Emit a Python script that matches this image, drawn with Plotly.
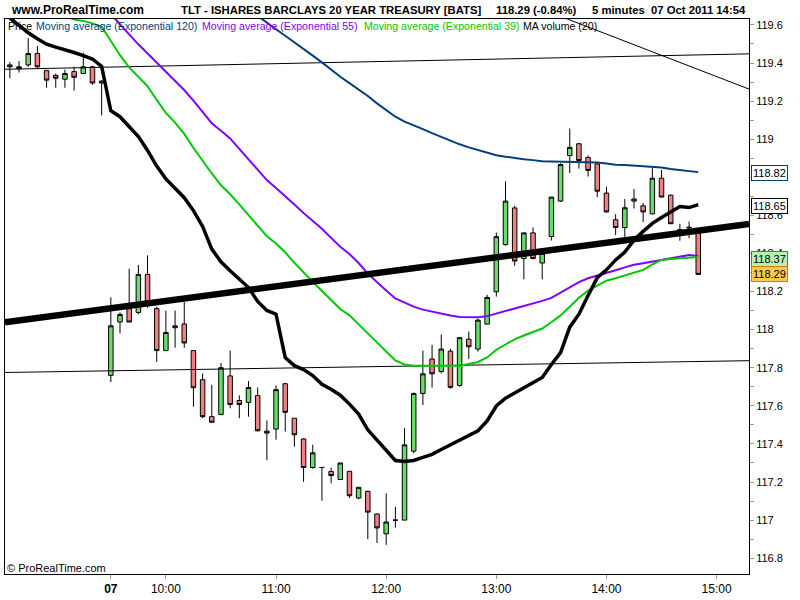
import plotly.graph_objects as go

# ---------------- data ----------------
bar_index = list(range(76))

open_ = [119.39, 119.37, 119.39, 119.45, 119.36, 119.335, 119.315, 119.355, 119.345, 119.38, 119.305,
         117.76, 118.04, 118.11, 118.09, 118.29, 118.11, 117.89, 118.02, 118.03, 117.89,
         117.737, 117.543, 117.555, 117.757, 117.628, 117.618, 117.654, 117.467, 117.478, 117.716,
         117.535, 117.426, 117.276, 117.276, 117.255, 117.213, 117.256, 117.116, 117.151, 117.032,
         116.928, 117.0, 117.0, 117.362, 117.665, 117.846, 117.78, 117.887, 117.707, 117.95,
         117.898, 118.029, 118.199, 118.447, 118.639, 118.373, 118.508, 118.35, 118.489, 118.675,
         118.914, 118.976, 118.904, 118.87, 118.717, 118.577, 118.536, 118.675, 118.65, 118.608,
         118.795, 118.706, 118.525, 118.538, 118.515]
high = [119.405, 119.41, 119.53, 119.49, 119.365, 119.345, 119.365, 119.38, 119.455, 119.385, 119.31,
        118.17, 118.09, 118.32, 118.34, 118.39, 118.12, 118.1, 118.1, 118.145, 117.89,
        117.77, 117.71, 117.825, 117.89, 117.655, 117.73, 117.696, 117.523, 117.707, 117.72,
        117.535, 117.43, 117.396, 117.28, 117.276, 117.3, 117.256, 117.172, 117.155, 117.035,
        117.14, 117.07, 117.483, 117.67, 117.89, 117.92, 117.975, 117.9, 117.96, 117.99,
        118.058, 118.183, 118.51, 118.779, 118.65, 118.51, 118.537, 118.42, 118.696, 118.874,
        119.056, 118.98, 118.914, 118.875, 118.75, 118.606, 118.686, 118.738, 118.665, 118.848,
        118.838, 118.71, 118.556, 118.567, 118.52]
low = [119.32, 119.35, 119.38, 119.37, 119.27, 119.27, 119.27, 119.255, 119.345, 119.285, 119.125,
       117.725, 117.98, 118.04, 118.08, 118.115, 117.83, 117.89, 117.905, 117.905, 117.595,
       117.535, 117.51, 117.55, 117.587, 117.535, 117.543, 117.465, 117.315, 117.422, 117.465,
       117.385, 117.201, 117.27, 117.102, 117.193, 117.21, 117.116, 117.11, 116.9, 116.88,
       116.87, 116.96, 117.0, 117.35, 117.604, 117.696, 117.77, 117.69, 117.7, 117.846,
       117.885, 118.03, 118.174, 118.44, 118.335, 118.264, 118.37, 118.264, 118.468, 118.67,
       118.822, 118.845, 118.804, 118.696, 118.615, 118.497, 118.487, 118.636, 118.565, 118.605,
       118.696, 118.555, 118.467, 118.48, 118.29]
close = [119.38, 119.38, 119.45, 119.38, 119.31, 119.32, 119.345, 119.325, 119.38, 119.295, 119.295,
         118.02, 118.08, 118.04, 118.29, 118.145, 117.89, 117.985, 118.01, 117.93, 117.695,
         117.543, 117.514, 117.8, 117.607, 117.607, 117.696, 117.469, 117.457, 117.685, 117.566,
         117.448, 117.276, 117.353, 117.276, 117.234, 117.3, 117.128, 117.172, 117.042, 116.959,
         116.99, 117.0, 117.395, 117.665, 117.768, 117.768, 117.898, 117.697, 117.958, 117.91,
         118.05, 118.169, 118.488, 118.675, 118.36, 118.508, 118.373, 118.4, 118.696, 118.867,
         118.957, 118.888, 118.836, 118.727, 118.618, 118.536, 118.64, 118.686, 118.618, 118.795,
         118.696, 118.556, 118.525, 118.535, 118.29]

ema120 = [None] * 27 + [
    119.647, 119.61, 119.577, 119.543, 119.509, 119.476, 119.439, 119.403, 119.364, 119.328,
    119.294, 119.26, 119.227, 119.188, 119.154, 119.118, 119.092, 119.074, 119.053, 119.032,
    119.011, 118.993, 118.973, 118.957, 118.942, 118.929, 118.916, 118.908, 118.9, 118.895,
    118.89, 118.884, 118.883, 118.882, 118.881, 118.879, 118.879, 118.878, 118.872, 118.866,
    118.864, 118.861, 118.859, 118.856, 118.851, 118.843, 118.838, 118.833, 118.827]
ema55 = [None] * 11 + [
    119.657, 119.606, 119.55, 119.498, 119.451, 119.403, 119.356, 119.308, 119.258, 119.203,
    119.146, 119.084, 119.044, 119.004, 118.949, 118.895, 118.84, 118.785, 118.744, 118.703,
    118.657, 118.612, 118.571, 118.53, 118.482, 118.435, 118.397, 118.35, 118.294, 118.248,
    118.206, 118.164, 118.142, 118.121, 118.105, 118.094, 118.083, 118.074, 118.066, 118.065,
    118.065, 118.071, 118.084, 118.099, 118.113, 118.125, 118.137, 118.151, 118.167, 118.195,
    118.223, 118.25, 118.27, 118.283, 118.298, 118.312, 118.327, 118.341, 118.349, 118.358,
    118.367, 118.375, 118.384, 118.392, 118.387]
ema39 = [None] * 6 + [
    119.647, 119.628, 119.621, 119.608, 119.59, 119.512, 119.441, 119.377, 119.327, 119.278,
    119.206, 119.138, 119.087, 119.028, 118.954, 118.886, 118.82, 118.758, 118.711, 118.658,
    118.602, 118.546, 118.49, 118.452, 118.406, 118.351, 118.299, 118.251, 118.203, 118.155,
    118.108, 118.075, 118.029, 117.981, 117.933, 117.885, 117.838, 117.817, 117.811, 117.811,
    117.811, 117.811, 117.811, 117.811, 117.82, 117.83, 117.854, 117.894, 117.922, 117.949,
    117.969, 117.987, 118.006, 118.039, 118.075, 118.12, 118.167, 118.205, 118.233, 118.257,
    118.27, 118.285, 118.3, 118.314, 118.342, 118.366, 118.371, 118.376, 118.379, 118.382]
ma20 = [119.636, 119.595, 119.559, 119.527, 119.499, 119.483, 119.47, 119.455, 119.439, 119.421,
        119.382, 119.149, 119.118, 119.066, 119.014, 118.941, 118.859, 118.791, 118.739, 118.693,
        118.625, 118.542, 118.423, 118.356, 118.309, 118.267, 118.221, 118.148, 118.101, 118.081,
        117.853, 117.811, 117.79, 117.759, 117.713, 117.687, 117.656, 117.609, 117.557, 117.474,
        117.422, 117.365, 117.313, 117.308, 117.313, 117.329, 117.345, 117.371, 117.396, 117.417,
        117.443, 117.469, 117.521, 117.599, 117.64, 117.666, 117.697, 117.723, 117.749, 117.817,
        117.879, 118.013, 118.081, 118.179, 118.273, 118.314, 118.366, 118.407, 118.47, 118.516,
        118.558, 118.589, 118.62, 118.646, 118.641, 118.656]

# drawn trend lines (bar-index ends, prices)
edge_x = [-0.53, 80.53]
upper_line = [119.367, 119.448]
lower_line = [117.775, 117.837]
thick_line = [118.039, 118.555]
desc_x = [58.0, 80.53]
desc_line = [119.682, 119.263]

tick_pos = [11, 17, 29, 41, 53, 65, 77]
tick_text = ["<b>07</b>", "10:00", "11:00", "12:00", "13:00", "14:00", "15:00"]

label_vals = [118.82, 118.65, 118.37, 118.29]
label_bg = ["white", "white", "#B8F0B0", "#FFC850"]
label_border = ["#003F7F", "black", "#00B000", "#D08000"]

# ---------------- figure ----------------
FONT = "Arial, Liberation Sans, sans-serif"
BLUE, PURPLE, GREEN = "#003F7F", "#7F00FF", "#00C800"

fig = go.Figure()
for xs, ys, w in [(edge_x, upper_line, 1), (edge_x, lower_line, 1), (desc_x, desc_line, 1)]:
    fig.add_trace(go.Scatter(x=xs, y=ys, mode="lines", line=dict(color="black", width=w),
                             hoverinfo="skip"))
fig.add_trace(go.Scatter(x=bar_index, y=ema120, mode="lines", line=dict(color=BLUE, width=2)))
fig.add_trace(go.Scatter(x=bar_index, y=ema55, mode="lines", line=dict(color=PURPLE, width=2)))
fig.add_trace(go.Scatter(x=bar_index, y=ema39, mode="lines", line=dict(color=GREEN, width=2)))
fig.add_trace(go.Scatter(x=bar_index, y=ma20, mode="lines", line=dict(color="black", width=3.5)))
fig.add_trace(go.Candlestick(
    x=bar_index, open=open_, high=high, low=low, close=close,
    increasing=dict(line=dict(color="black", width=1), fillcolor="#66DD66"),
    decreasing=dict(line=dict(color="black", width=1), fillcolor="#F08080"),
    whiskerwidth=0))
fig.add_trace(go.Scatter(x=edge_x, y=thick_line, mode="lines", line=dict(color="black", width=6.5)))

PL, PR, PT, PB = 4, 749, 19, 581


def px(xp):
    return (xp - PL) / (PR - PL)


def py(yp):
    return (PB - yp) / (PB - PT)


ann = []


def text(s, x0, y0, size, color="black", bold=False):
    ann.append(dict(text=("<b>%s</b>" % s) if bold else s, x=px(x0), y=py(y0), xref="paper",
                    yref="paper", xanchor="left", yanchor="middle", showarrow=False,
                    font=dict(family=FONT, size=size, color=color), borderpad=0))


text("www.ProRealTime.com", 9, 10, 12, bold=True)
text("TLT - ISHARES BARCLAYS 20 YEAR TREASURY [BATS]", 179, 10, 11.3, bold=True)
text("118.29 (-0.84%)", 495, 10, 11.3, bold=True)
text("5 minutes  07 Oct 2011 14:54", 591, 10, 11.3, bold=True)

text("Price", 6, 26, 10.6)
text("Moving average (Exponential 120)", 34, 26, 10.6, BLUE)
text("Moving average (Exponential 55)", 200, 26, 10.6, PURPLE)
text("Moving average (Exponential 39)", 362, 26, 10.6, GREEN)
text("MA volume (20)", 522, 26, 10.6)
text("© ProRealTime.com", 5, 575, 11)

for v, bg, bc in zip(label_vals, label_bg, label_border):
    ann.append(dict(text="%.2f" % v, x=1, xref="paper", y=v, yref="y", xanchor="left",
                    yanchor="middle", xshift=2, showarrow=False, bgcolor=bg, bordercolor=bc,
                    borderwidth=1, borderpad=1, font=dict(family=FONT, size=11, color="black")))

fig.update_layout(
    width=800, height=600, margin=dict(l=PL, r=800 - PR, t=PT, b=600 - PB),
    paper_bgcolor="white", plot_bgcolor="white", showlegend=False,
    font=dict(family=FONT, size=11, color="black"),
    annotations=ann,
    xaxis=dict(range=[-0.53, 80.53], tickmode="array", tickvals=tick_pos, ticktext=tick_text,
               ticks="outside", ticklen=4, tickcolor="#999999", showline=True, mirror=True,
               linecolor="black", linewidth=1, showgrid=False, zeroline=False,
               rangeslider=dict(visible=False), tickfont=dict(size=12, family=FONT)),
    yaxis=dict(side="right", range=[116.717, 119.631], tick0=116.8, dtick=0.2,
               ticks="outside", ticklen=4, tickcolor="#999999",
               minor=dict(dtick=0.1, tick0=116.8, ticks="outside", ticklen=4, tickcolor="#999999"),
               showline=True, mirror=True, linecolor="black", linewidth=1, showgrid=False,
               zeroline=False, tickfont=dict(size=11, family=FONT)),
)

fig.write_html("out.html", config={"displayModeBar": False},
               post_script="document.body.style.margin='0px';")
